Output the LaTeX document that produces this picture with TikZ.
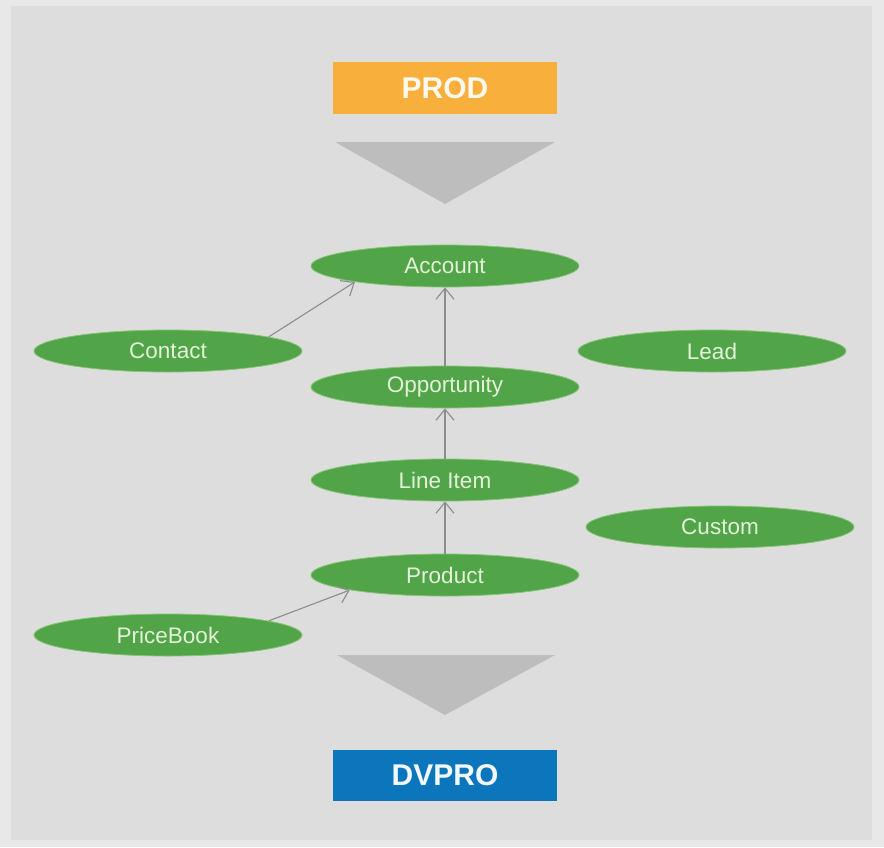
\documentclass[tikz,border=0pt]{standalone}
\usepackage{fontspec}
\setmainfont{Liberation Sans}
\usetikzlibrary{shapes.geometric,arrows.meta}
\definecolor{outerbg}{HTML}{E8E8E8}
\definecolor{innerbg}{HTML}{DDDDDD}
\definecolor{prodc}{HTML}{F9AF3C}
\definecolor{dvproc}{HTML}{0C76BC}
\definecolor{ellc}{HTML}{51A447}
\definecolor{elledge}{HTML}{86C476}
\definecolor{elltext}{HTML}{E4F3DA}
\definecolor{tric}{HTML}{BDBDBD}
\definecolor{linec}{HTML}{8C8C8C}
\tikzset{
  ent/.style={ellipse, fill=ellc, draw=elledge, line width=0.8pt,
    minimum width=268pt, minimum height=42pt, inner sep=0pt,
    text=elltext, font=\fontsize{22.5}{26}\selectfont},
  envbox/.style={rectangle, minimum width=224pt, minimum height=52pt,
    inner sep=0pt, font=\fontsize{30}{34}\selectfont\bfseries},
  rel/.style={draw=linec, line width=1.1pt, -{Straight Barb[length=11pt,width=18pt,line width=1.1pt]}}
}
\begin{document}
\begin{tikzpicture}[x=1pt,y=-1pt]
\useasboundingbox (0,0) rectangle (884,847);
\fill[outerbg] (0,0) rectangle (884,847);
\fill[innerbg] (11,6) rectangle (872,840);
% env boxes
\node[envbox, fill=prodc, text=white!92!prodc] (prod) at (445,88) {PROD};
\node[envbox, fill=dvproc, text=white!95!dvproc, minimum height=51pt] (dvpro) at (445,775.5) {DVPRO};
% triangles
\fill[tric] (335,142) -- (555,142) -- (445,204) -- cycle;
\fill[tric] (337,655) -- (555,655) -- (445,715) -- cycle;
% entities
\node[ent] (account) at (445,266) {Account};
\node[ent] (contact) at (168,351) {Contact};
\node[ent] (lead) at (712,351) {Lead};
\node[ent] (opp) at (445,387) {Opportunity};
\node[ent] (line) at (445,480) {Line Item};
\node[ent] (custom) at (720,527) {Custom};
\node[ent] (product) at (445,575) {Product};
\node[ent] (pricebook) at (168,635) {PriceBook};
% relations
\draw[rel] (contact.8.5) -- (account.190);
\draw[rel] (opp.north) -- (account.south);
\draw[rel] (line.north) -- (opp.south);
\draw[rel] (product.north) -- (line.south);
\draw[rel] (pricebook.8) -- (product.189);
\end{tikzpicture}
\end{document}
